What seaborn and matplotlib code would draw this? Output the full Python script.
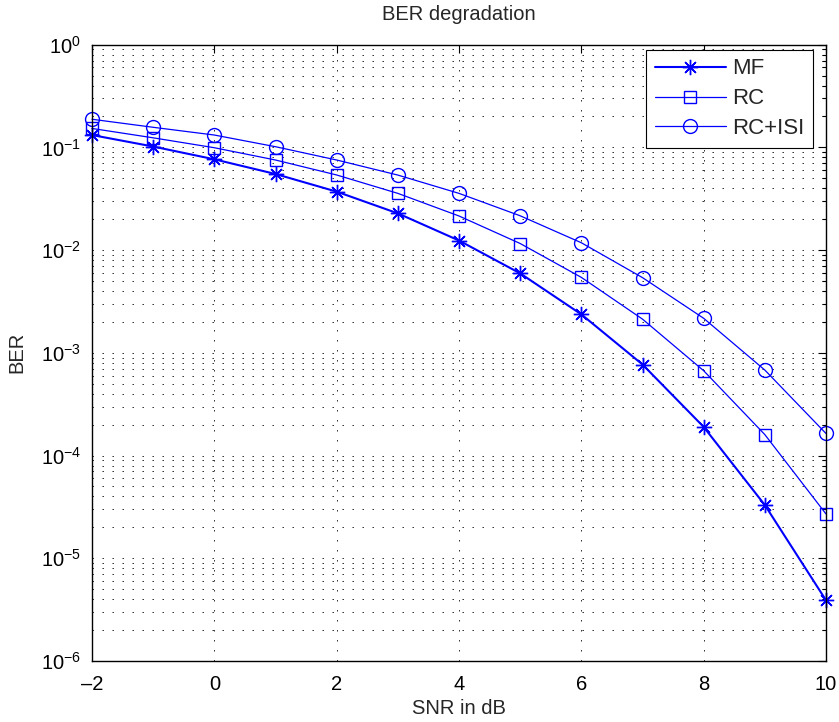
import numpy as np
import pandas as pd
import matplotlib
matplotlib.use('Agg')
import matplotlib.pyplot as plt
import matplotlib.ticker as mticker
import seaborn as sns

# SNR points (dB) and BER
snr = [-2, -1, 0, 1, 2, 3, 4, 5, 6, 7, 8, 9, 10]
ber_mf = [0.132, 0.102, 0.0766, 0.0551, 0.0371, 0.0228, 0.0124, 0.00594,
          0.00237, 7.7e-4, 1.9e-4, 3.3e-5, 3.9e-6]
ber_rc = [0.153, 0.124, 0.0993, 0.0754, 0.0539, 0.0357, 0.0215, 0.0116,
          0.00543, 0.00213, 6.7e-4, 1.6e-4, 2.7e-5]
ber_isi = [0.188, 0.157, 0.132, 0.1016, 0.0754, 0.0538, 0.0357, 0.0216,
           0.0118, 0.0054, 0.00217, 6.8e-4, 1.64e-4]
labels = ['MF', 'RC', 'RC+ISI']
y_decades = [1e-6, 1e-5, 1e-4, 1e-3, 1e-2, 1e-1, 1e0]

sns.set_style('white')
plt.rcParams['font.family'] = ['Liberation Sans', 'DejaVu Sans']
plt.rcParams['mathtext.fontset'] = 'custom'
plt.rcParams['mathtext.rm'] = 'Liberation Sans'
plt.rcParams['mathtext.it'] = 'Liberation Sans'
plt.rcParams['mathtext.default'] = 'regular'

fig = plt.figure(figsize=(8.39, 7.22), dpi=100)
ax = fig.add_axes([92 / 839, 61 / 722, 734 / 839, 616.3 / 722])

blue = (0, 0, 1)
fs = 14.5
# MF curve looks like two overlapping traces, so draw it a bit heavier
sns.lineplot(x=snr, y=ber_mf, ax=ax, color=blue, lw=1.5, marker=(8, 2, 0),
             markersize=11, markeredgewidth=1.0, markeredgecolor=blue,
             label=labels[0], clip_on=False)
sns.lineplot(x=snr, y=ber_rc, ax=ax, color=blue, lw=0.9, marker='s',
             markersize=9, markerfacecolor='none', markeredgewidth=1.0,
             markeredgecolor=blue, label=labels[1], clip_on=False)
sns.lineplot(x=snr, y=ber_isi, ax=ax, color=blue, lw=0.9, marker='o',
             markersize=10, markerfacecolor='none', markeredgewidth=1.0,
             markeredgecolor=blue, label=labels[2], clip_on=False)

ax.set_yscale('log')
ax.set_xlim(-2, 10)
ax.set_ylim(1e-6, 1)
ax.set_xticks(np.arange(-2, 11, 2))
ax.xaxis.set_major_formatter(mticker.FuncFormatter(lambda v, p: f'{int(v)}'.replace('-', '\u2013')))
ax.set_yticks(y_decades)
ax.yaxis.set_major_formatter(mticker.LogFormatterSciNotation())
ax.yaxis.set_minor_locator(mticker.LogLocator(base=10, subs=np.arange(2, 10), numticks=20))
ax.yaxis.set_minor_formatter(mticker.NullFormatter())
ax.set_ylim(1e-6, 1)

dots = (0, (1.7, 10.3))
ax.grid(True, which='major', axis='both', color='black', lw=0.6, linestyle=dots)
ax.grid(True, which='minor', axis='y', color='black', lw=0.6, linestyle=dots)

ax.tick_params(which='both', direction='in', top=True, right=True,
               labelsize=fs, colors='black', width=0.8)
ax.tick_params(which='major', length=6)
ax.tick_params(axis='x', which='major', pad=10)
ax.tick_params(axis='y', which='major', pad=8)
ax.tick_params(which='minor', length=3)
for s in ax.spines.values():
    s.set_color('black')
    s.set_linewidth(1.0)

ax.set_title('BER degradation', fontsize=fs, pad=18)
ax.set_xlabel('SNR in dB', fontsize=fs, labelpad=4)
ax.set_ylabel('BER', fontsize=fs, labelpad=10)

leg = ax.legend(loc='upper right', fontsize=16, frameon=True, fancybox=False,
                framealpha=1, edgecolor='black', handlelength=3.2,
                borderpad=0.4, labelspacing=0.4, handletextpad=0.3,
                borderaxespad=0.3, bbox_to_anchor=(0.992, 1.003))
leg.get_frame().set_linewidth(0.8)

fig.savefig('out.png', dpi=100)
